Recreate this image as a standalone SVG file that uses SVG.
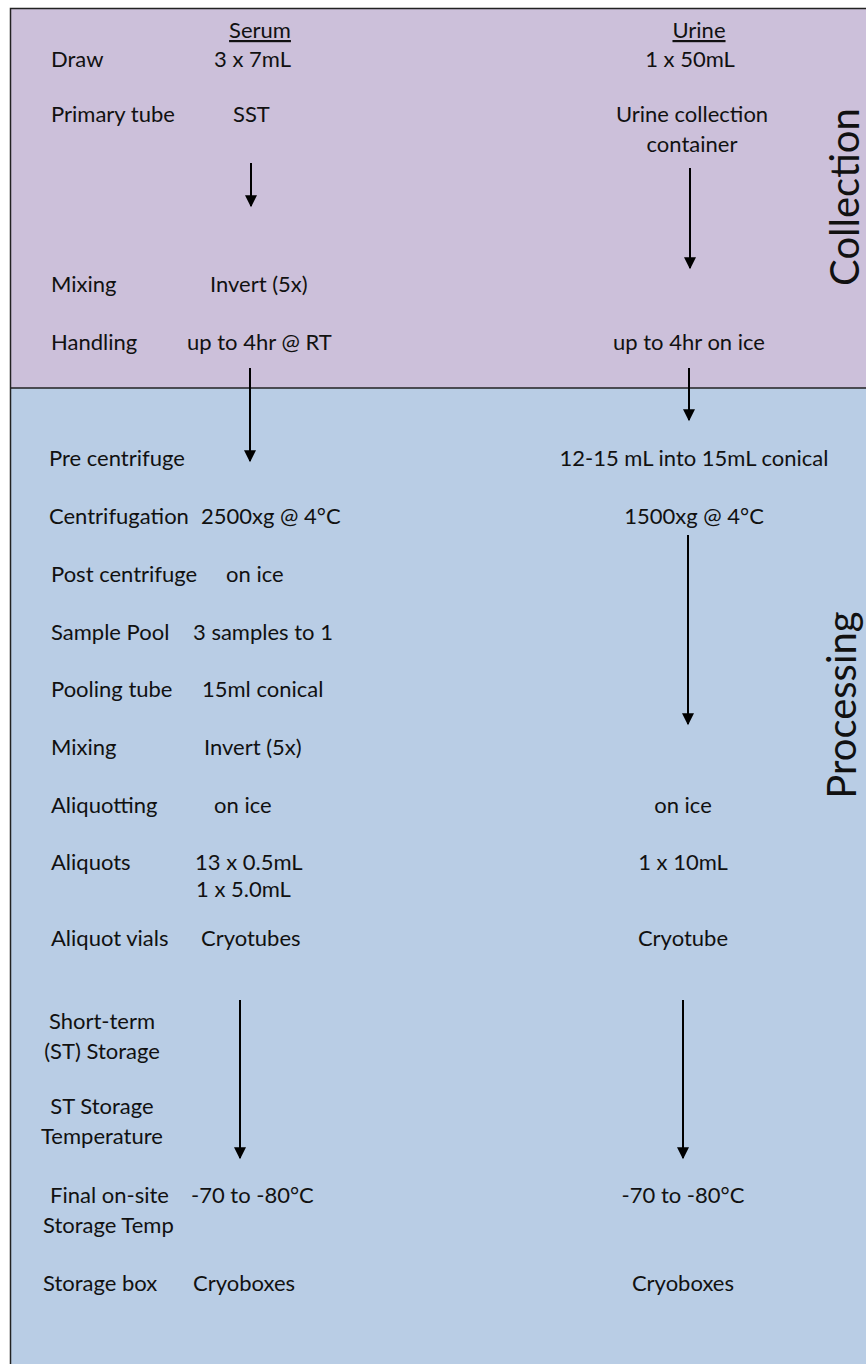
<svg xmlns="http://www.w3.org/2000/svg" width="866" height="1364" viewBox="0 0 866 1364">
<defs>
<marker id="ah" viewBox="0 0 10 10" refX="9" refY="5" markerWidth="6.5" markerHeight="6" markerUnits="strokeWidth" orient="auto">
<path d="M0,0 L10,5 L0,10 z" fill="#000"/>
</marker>
<style>
text{font-family:Lato,"Open Sans","Liberation Sans",sans-serif;font-size:22px;fill:#111}
.c{text-anchor:middle}
.u{text-decoration:underline}
.side{font-size:40px;text-anchor:middle}
.arr{stroke:#000;stroke-width:2;fill:none;marker-end:url(#ah)}
</style>
</defs>
<g id="background">
<rect x="10" y="8" width="870" height="380" fill="#CCC0DA"/>
<rect x="10" y="388" width="870" height="990" fill="#B9CDE5"/>
<path d="M10.5,1370 V8.5 H870" fill="none" stroke="#222" stroke-width="1.5"/>
<line x1="10" y1="388" x2="866" y2="388" stroke="#222" stroke-width="1.5"/>
</g>
<g id="section-labels">
<text class="side" transform="translate(859,197) rotate(-90)">Collection</text>
<text class="side" transform="translate(856,705) rotate(-90)">Processing</text>
</g>
<g id="headers">
<text class="c u" x="260" y="38">Serum</text>
<text class="c u" x="699" y="38">Urine</text>
</g>
<g id="row-labels">
<text x="51" y="67">Draw</text>
<text x="51" y="122">Primary tube</text>
<text x="51" y="292">Mixing</text>
<text x="51" y="350">Handling</text>
<text x="49" y="466">Pre centrifuge</text>
<text x="49" y="524">Centrifugation</text>
<text x="51" y="582">Post centrifuge</text>
<text x="51" y="640">Sample Pool</text>
<text x="51" y="697">Pooling tube</text>
<text x="51" y="755">Mixing</text>
<text x="51" y="813">Aliquotting</text>
<text x="51" y="870">Aliquots</text>
<text x="51" y="946">Aliquot vials</text>
<text class="c" x="102" y="1029">Short-term</text>
<text class="c" x="102" y="1059">(ST) Storage</text>
<text class="c" x="102" y="1114">ST Storage</text>
<text class="c" x="102" y="1144">Temperature</text>
<text x="50" y="1203">Final on-site</text>
<text x="43" y="1233">Storage Temp</text>
<text x="43" y="1291">Storage box</text>
</g>
<g id="serum-values">
<text x="214" y="67">3 x 7mL</text>
<text x="233" y="122">SST</text>
<text x="210" y="292">Invert (5x)</text>
<text x="187" y="350">up to 4hr @ RT</text>
<text x="201" y="524">2500xg @ 4°C</text>
<text x="226" y="582">on ice</text>
<text x="193" y="640">3 samples to 1</text>
<text x="202" y="697">15ml conical</text>
<text x="204" y="755">Invert (5x)</text>
<text x="214" y="813">on ice</text>
<text x="195" y="870">13 x 0.5mL</text>
<text x="196" y="897">1 x 5.0mL</text>
<text x="201" y="946">Cryotubes</text>
<text x="191" y="1203">-70 to -80°C</text>
<text x="193" y="1291">Cryoboxes</text>
</g>
<g id="urine-values">
<text class="c" x="690" y="67">1 x 50mL</text>
<text class="c" x="692" y="122">Urine collection</text>
<text class="c" x="692" y="152">container</text>
<text class="c" x="689" y="350">up to 4hr on ice</text>
<text class="c" x="694" y="466">12-15 mL into 15mL conical</text>
<text class="c" x="694" y="524">1500xg @ 4°C</text>
<text class="c" x="683" y="813">on ice</text>
<text class="c" x="683" y="870">1 x 10mL</text>
<text class="c" x="683" y="946">Cryotube</text>
<text class="c" x="683" y="1203">-70 to -80°C</text>
<text class="c" x="683" y="1291">Cryoboxes</text>
</g>
<g id="connectors">
<line class="arr" x1="251" y1="163" x2="251" y2="206"/>
<line class="arr" x1="690" y1="168" x2="690" y2="268"/>
<line class="arr" x1="250" y1="368" x2="250" y2="461"/>
<line class="arr" x1="689" y1="368" x2="689" y2="420"/>
<line class="arr" x1="688" y1="535" x2="688" y2="724"/>
<line class="arr" x1="240" y1="1000" x2="240" y2="1158"/>
<line class="arr" x1="683" y1="1000" x2="683" y2="1158"/>
</g>
</svg>
